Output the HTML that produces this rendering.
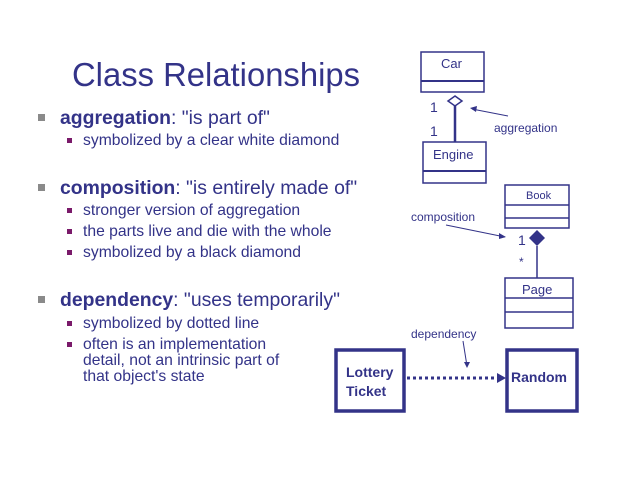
<!DOCTYPE html>
<html><head><meta charset="utf-8"><style>body{margin:0;background:#fff}svg{display:block}</style></head>
<body>
<svg width="620" height="478" xmlns="http://www.w3.org/2000/svg" font-family="Liberation Sans, sans-serif" fill="#333388">
<text x="72" y="86" font-size="33" textLength="288" lengthAdjust="spacingAndGlyphs">Class Relationships</text>
<g fill="#8a8a8a"><rect x="38" y="114" width="7" height="7"/><rect x="38" y="184" width="7" height="7"/><rect x="38" y="296" width="7" height="7"/></g>
<g fill="#7a1a6a"><rect x="67" y="138" width="5" height="5"/><rect x="67" y="208" width="5" height="5"/><rect x="67" y="229" width="5" height="5"/><rect x="67" y="250" width="5" height="5"/><rect x="67" y="321" width="5" height="5"/><rect x="67" y="342" width="5" height="5"/></g>
<g font-size="19.4"><text x="60" y="124"><tspan font-weight="bold">aggregation</tspan>: "is part of"</text>
<text x="60" y="194"><tspan font-weight="bold">composition</tspan>: "is entirely made of"</text>
<text x="60" y="306"><tspan font-weight="bold">dependency</tspan>: "uses temporarily"</text></g>
<g font-size="15.7"><text x="83" y="145">symbolized by a clear white diamond</text>
<text x="83" y="215">stronger version of aggregation</text>
<text x="83" y="236">the parts live and die with the whole</text>
<text x="83" y="257">symbolized by a black diamond</text>
<text x="83" y="328">symbolized by dotted line</text>
<text x="83" y="349">often is an implementation</text>
<text x="83" y="365">detail, not an intrinsic part of</text>
<text x="83" y="381">that object's state</text></g>
<g fill="none" stroke="#333388" stroke-width="1.5">
<rect x="421" y="52" width="63" height="40"/><line x1="421" y1="81" x2="484" y2="81" stroke-width="2"/>
<rect x="423" y="142" width="63" height="41"/><line x1="423" y1="171" x2="486" y2="171" stroke-width="2"/>
<path d="M455 96 L462 101 L455 106 L448 101 Z" fill="#fff"/>
<line x1="455" y1="106" x2="455" y2="142" stroke-width="2.5"/>
<line x1="508" y1="116" x2="472" y2="109" stroke-width="1"/>
<rect x="505" y="185" width="64" height="43"/><line x1="505" y1="205" x2="569" y2="205"/><line x1="505" y1="218" x2="569" y2="218"/>
<line x1="537" y1="246" x2="537" y2="278"/>
<rect x="505" y="278" width="68" height="50"/><line x1="505" y1="298" x2="573" y2="298"/><line x1="505" y1="312" x2="573" y2="312"/>
<line x1="446" y1="225" x2="505" y2="237" stroke-width="1"/>
<line x1="463" y1="341" x2="467" y2="366" stroke-width="1"/>
<rect x="336" y="350" width="68" height="61" stroke-width="3.5"/>
<rect x="507" y="350" width="70" height="61" stroke-width="3.5"/>
<line x1="407" y1="378" x2="498" y2="378" stroke-width="3" stroke-dasharray="3,3"/>
</g>
<path d="M537 230 L545 238 L537 246 L529 238 Z" fill="#333388"/>
<path d="M470 108 L477 106 L476 112 Z" fill="#333388"/>
<path d="M506 237 L499 233 L499 239 Z" fill="#333388"/>
<path d="M467 368 L464 362 L470 362 Z" fill="#333388"/>
<path d="M506 378 L497 373 L497 383 Z" fill="#333388"/>
<g font-size="13"><text x="441" y="68">Car</text><text x="433" y="159">Engine</text>
<text x="494" y="132" font-size="12">aggregation</text>
<text x="526" y="199" font-size="11">Book</text>
<text x="411" y="221" font-size="12">composition</text>
<text x="522" y="294">Page</text>
<text x="411" y="338" font-size="12">dependency</text></g>
<g font-size="14"><text x="430" y="112">1</text><text x="430" y="136">1</text><text x="518" y="245">1</text><text x="519" y="266" font-size="12">*</text></g>
<g font-size="14" font-weight="bold"><text x="346" y="377">Lottery</text><text x="346" y="396">Ticket</text><text x="511" y="382">Random</text></g>
</svg>
</body></html>
